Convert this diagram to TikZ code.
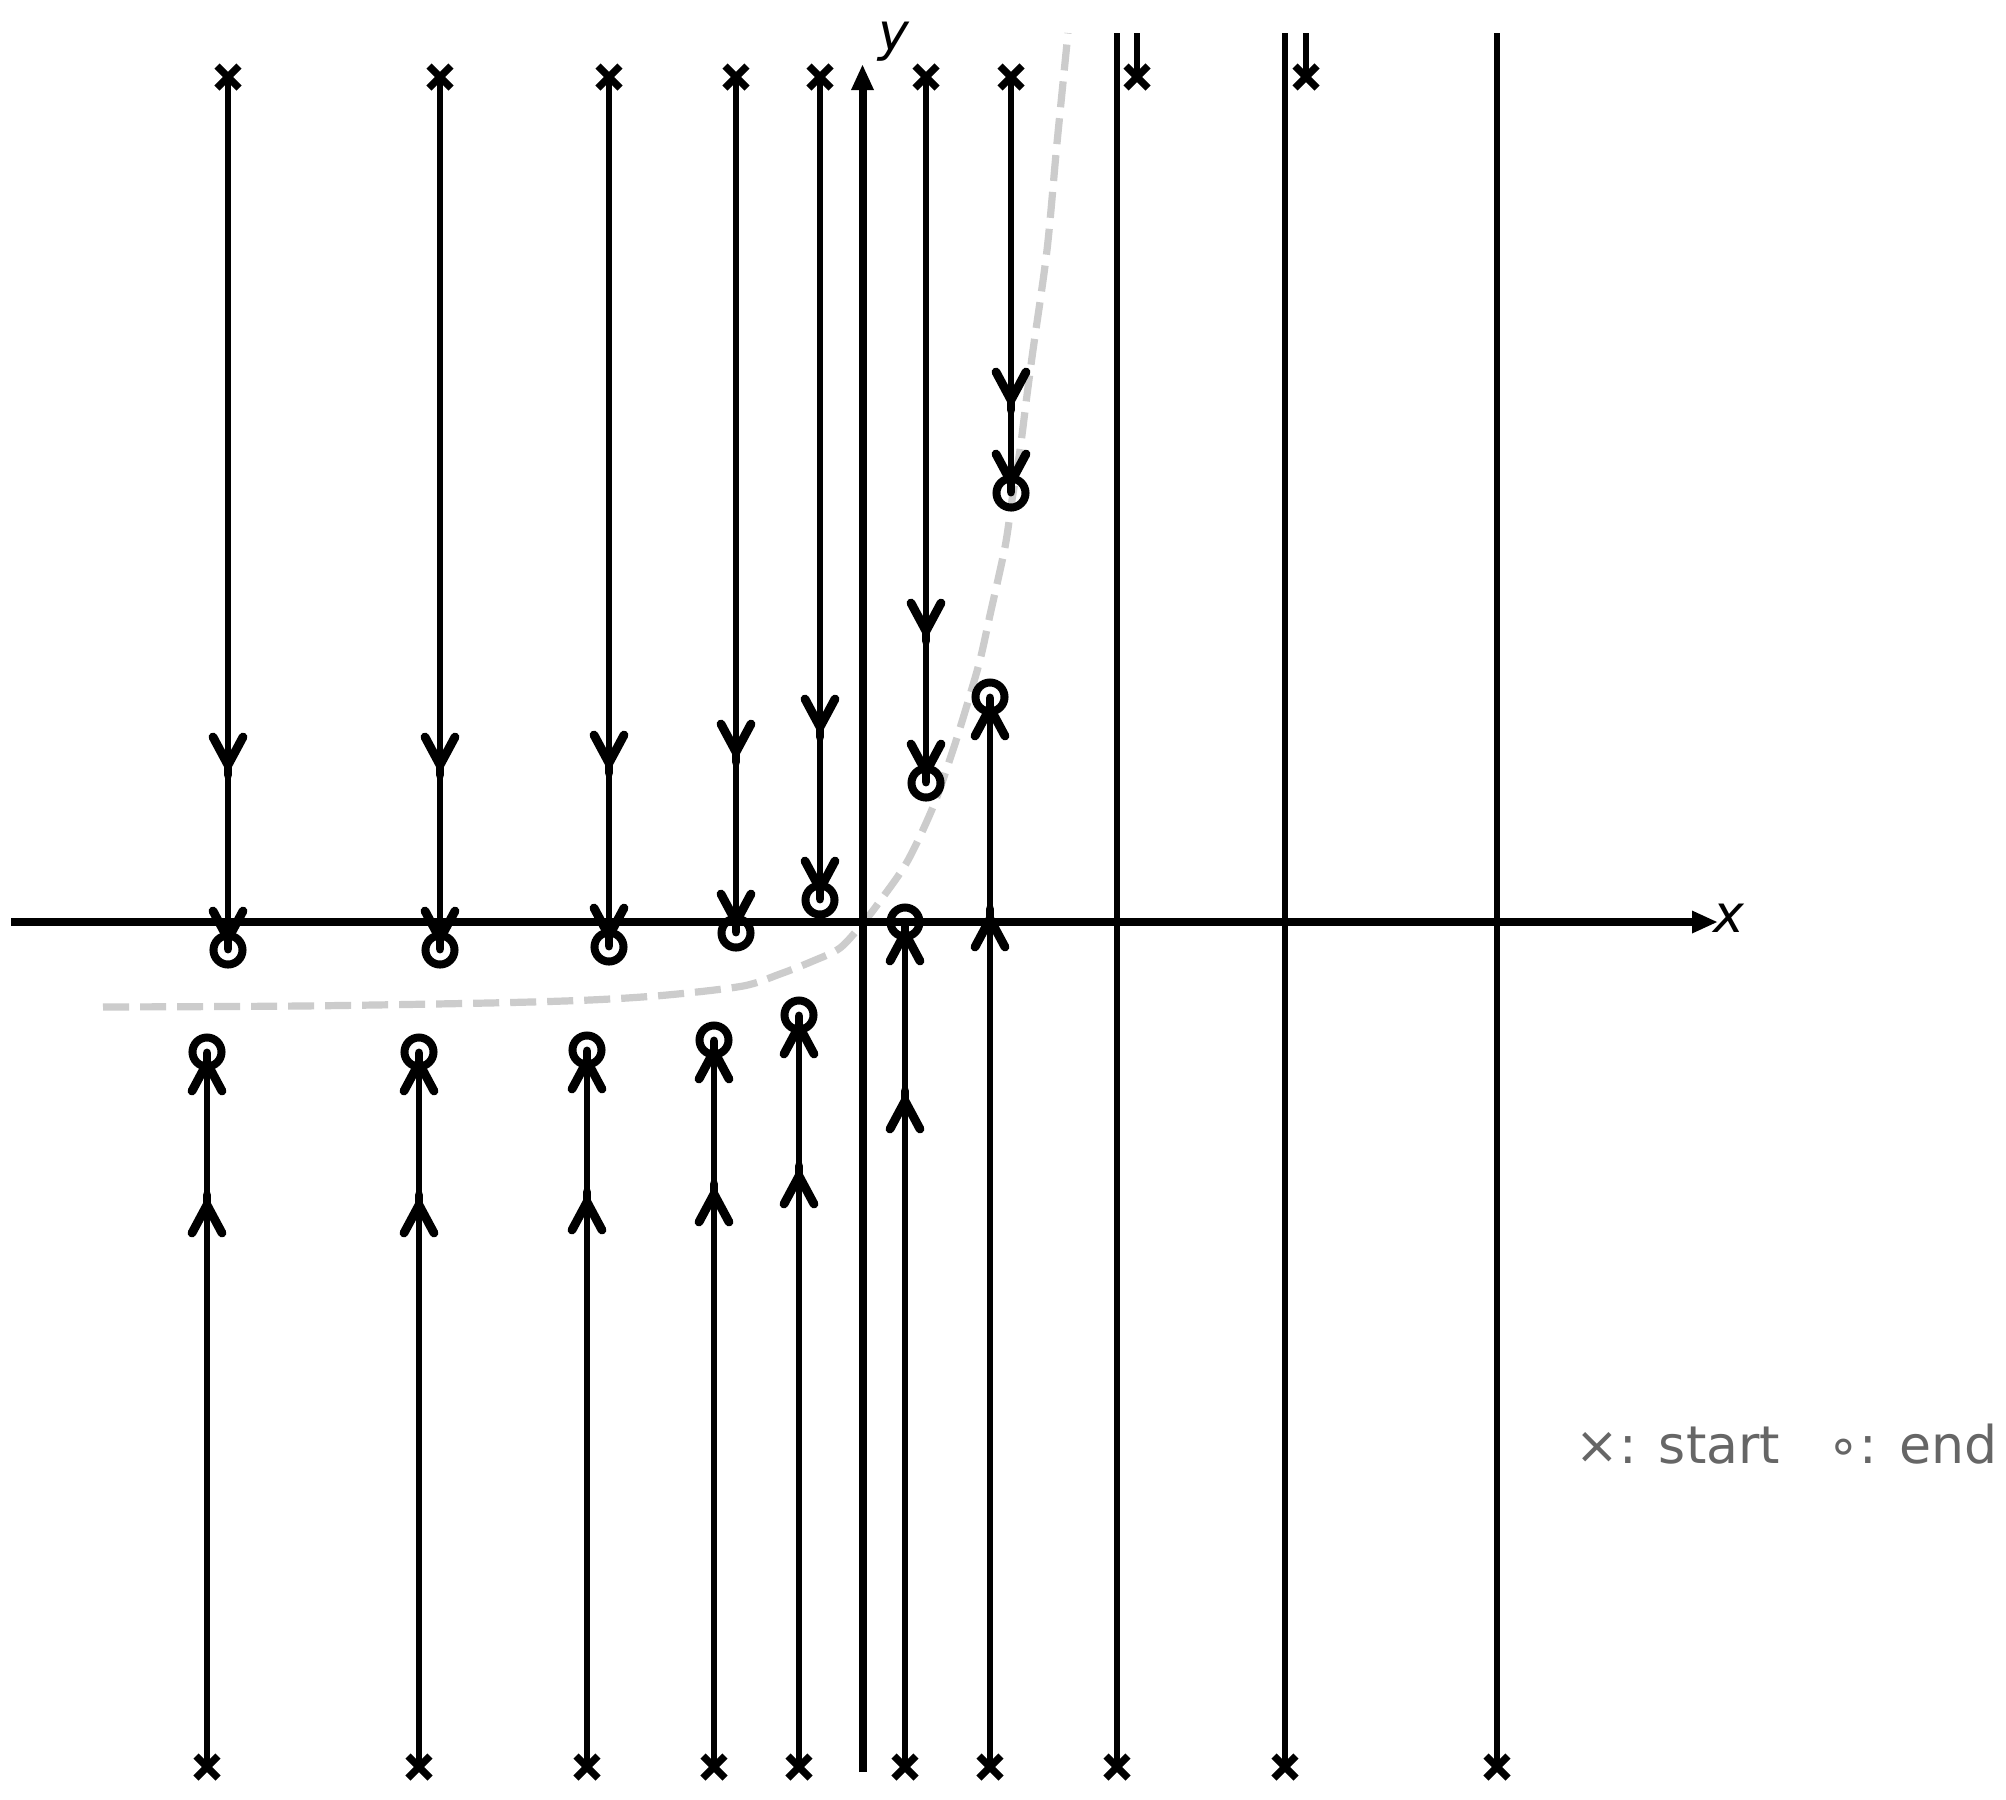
\documentclass[tikz,border=0pt]{standalone}
\usepackage{fontspec}
\setmainfont{DejaVu Sans}
\definecolor{nullc}{HTML}{CCCCCC}
\definecolor{legc}{HTML}{666666}
\tikzset{
  traj/.style={line width=0.063cm, line cap=round},
  topline/.style={line width=0.063cm, line cap=butt},
  axisline/.style={line width=0.08cm, line cap=butt},
  wing/.style={line width=0.088cm, line cap=round, line join=round},
  stemseg/.style={line width=0.088cm, line cap=round},
  xmk/.style={line width=0.072cm, line cap=butt},
  endring/.style={line width=0.08cm},
  nullcline/.style={draw=nullc, line width=0.072cm, dash pattern=on 0.26cm off 0.11cm},
  lbl/.style={font=\fontsize{14.8}{18}\selectfont, inner sep=0pt}
}
\newcommand\XMark[2]{\draw[xmk] ({#1-11},{#2-11}) -- ({#1+11},{#2+11}) ({#1-11},{#2+11}) -- ({#1+11},{#2-11});}
\newcommand\HeadDown[2]{\draw[wing] ({#1-15},{#2-28}) -- ({#1},{#2}) -- ({#1+15},{#2-28}); \draw[stemseg] ({#1},{#2}) -- ({#1},{#2+10});}
\newcommand\HeadUp[2]{\draw[wing] ({#1-15},{#2+28}) -- ({#1},{#2}) -- ({#1+15},{#2+28}); \draw[stemseg] ({#1},{#2}) -- ({#1},{#2-10});}
\newcommand\DownTraj[3]{%
  \draw[traj] ({#1},77) -- ({#1},{#2});
  \HeadDown{#1}{#3}
  \HeadDown{#1}{#2-11}
  \draw[endring] ({#1},{#2}) circle[radius=0.145cm];
  \XMark{#1}{77}}
\newcommand\UpTraj[3]{%
  \draw[traj] ({#1},1767) -- ({#1},{#2});
  \HeadUp{#1}{#3}
  \HeadUp{#1}{#2+11}
  \draw[endring] ({#1},{#2}) circle[radius=0.145cm];
  \XMark{#1}{1767}}
\begin{document}
\begin{tikzpicture}[x=0.01cm, y=-0.01cm]
\useasboundingbox[fill=white] (0,0) rectangle (2006,1799);
% dashed reference curve
\draw[nullcline] plot[smooth] coordinates {(103,1007) (300,1006) (488,1003) (590,1000) (667,995) (743,986) (780,974) (813,961) (840,948) (863,923) (880,901) (907,862) (933,807) (953,750) (967,705) (980,660) (990,615) (1005,547) (1012,500) (1020,450) (1027,395) (1033,350) (1047,250) (1057,143) (1068,33)};
% axes
\draw[axisline] (11,922) -- (1694,922);
\fill (1692,910.5) -- (1717,922) -- (1692,933.5) -- cycle;
\draw[axisline] (862.5,1772) -- (862.5,88);
\fill (851,90) -- (862.5,65) -- (874,90) -- cycle;
\node[lbl, anchor=base] (xlabel) at (1729,932) {\itshape x};
\node[lbl, anchor=base] (ylabel) at (894,50) {\itshape y};
% downward trajectories
\DownTraj{228}{950}{765}
\DownTraj{440}{950}{765}
\DownTraj{609}{947}{763}
\DownTraj{736}{933}{752}
\DownTraj{820}{900}{727}
\DownTraj{926}{783}{631}
\DownTraj{1011}{493}{400}
% escaping from top start points
\draw[topline] (1137,77) -- (1137,33);
\XMark{1137}{77}
\draw[topline] (1306,77) -- (1306,33);
\XMark{1306}{77}
% upward trajectories
\UpTraj{207}{1052}{1205}
\UpTraj{419}{1052}{1205}
\UpTraj{587}{1050}{1202}
\UpTraj{714}{1040}{1194}
\UpTraj{799}{1015}{1176}
\UpTraj{905}{922}{1101}
\UpTraj{990}{697}{919}
% escaping from bottom start points
\draw[topline] (1117,1767) -- (1117,33);
\XMark{1117}{1767}
\draw[topline] (1285,1767) -- (1285,33);
\XMark{1285}{1767}
\draw[topline] (1497,1767) -- (1497,33);
\XMark{1497}{1767}
% legend
\node[lbl, text=legc, anchor=base west] (legstart) at (1575,1463) {×: start};
\node[lbl, text=legc, anchor=base east] (legend) at (1998,1463) {∘: end};
\end{tikzpicture}
\end{document}
